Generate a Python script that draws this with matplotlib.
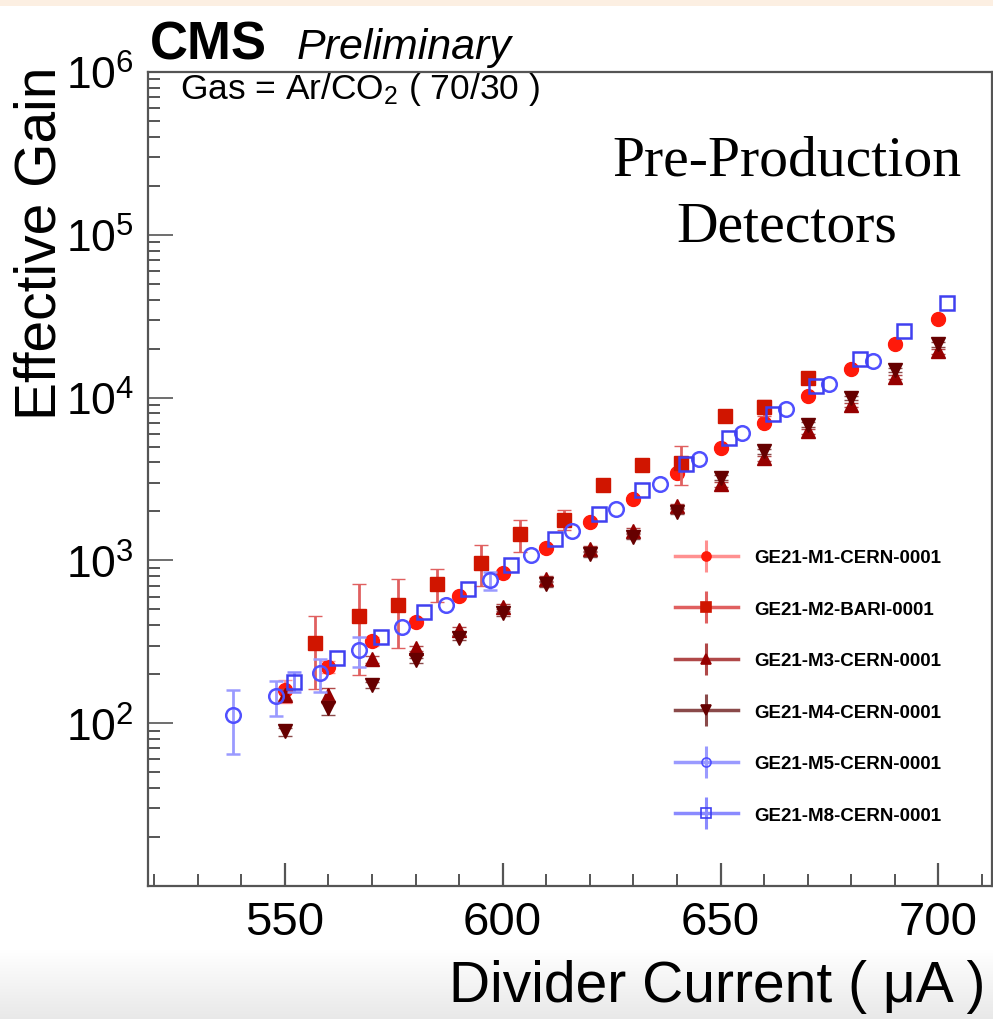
import numpy as np
import matplotlib
matplotlib.use("Agg")
import matplotlib.pyplot as plt
from matplotlib.lines import Line2D
from matplotlib.legend_handler import HandlerTuple
from matplotlib.ticker import FixedLocator, LogLocator, NullFormatter, LogFormatterSciNotation

plt.rcParams['font.family'] = ['Liberation Sans', 'DejaVu Sans']
plt.rcParams['mathtext.fontset'] = 'custom'
plt.rcParams['mathtext.rm'] = 'Liberation Sans'
plt.rcParams['mathtext.it'] = 'Liberation Sans:italic'
plt.rcParams['mathtext.bf'] = 'Liberation Sans:bold'

nan = float('nan')

# ---------------- data ----------------
labels = ["GE21-M1-CERN-0001", "GE21-M2-BARI-0001", "GE21-M3-CERN-0001",
          "GE21-M4-CERN-0001", "GE21-M5-CERN-0001", "GE21-M8-CERN-0001"]

m1_x = [550, 560, 570, 580, 590, 600, 610, 620, 630, 640, 650, 660, 670, 680, 690, 700]
m1_y = [159, 222, 318, 421, 608, 841, 1200, 1730, 2390, 3440, 4900, 6970, 10200, 14900, 21200, 30200]
m1_e = [25, 18, 20, 20, 25, 30, 40, 55, 70, 100, 140, 200, 300, 420, 600, 850]

m2_x = [557, 567, 576, 585, 595, 604, 614, 623, 632, 641, 651, 660, 670]
m2_y = [309, 457, 530, 720, 968, 1457, 1783, 2908, 3856, 3967, 7727, 8733, 13277]
m2_e = [146, 260, 240, 167, 272, 325, 250, 150, 200, 1080, 400, 1000, 600]

m3_x = [550, 560, 570, 580, 590, 600, 610, 620, 630, 640, 650, 660, 670, 680, 690, 700]
m3_y = [150, 149, 247, 288, 376, 520, 770, 1180, 1520, 2160, 2930, 4250, 6200, 9000, 13400, 19300]
m3_e = [12, 15, 12, 12, 15, 20, 28, 40, 55, 75, 100, 150, 210, 300, 450, 650]

m4_x = [550, 560, 570, 580, 590, 600, 610, 620, 630, 640, 650, 660, 670, 680, 690, 700]
m4_y = [89, 124, 172, 243, 336, 472, 715, 1090, 1400, 1990, 3230, 4680, 6820, 9930, 14800, 21300]
m4_e = [5, 12, 8, 10, 13, 18, 25, 36, 48, 65, 110, 160, 230, 330, 500, 720]

m5_x = [538, 548, 558, 567, 577, 587, 597, 606.5, 616, 626, 636, 645, 655, 665, 675, 685]
m5_y = [112, 146, 202, 281, 391, 530, 754, 1072, 1506, 2073, 2950, 4195, 6056, 8490, 12080, 16790]
m5_e = [47, 36, 47, 59, nan, nan, 95, nan, nan, nan, nan, nan, nan, nan, nan, nan]

m8_x = [552, 562, 572, 582, 592, 602, 612, 622, 632, 642, 652, 662, 672, 682, 692, 702]
m8_y = [180, 250, 340, 483, 671, 942, 1358, 1932, 2722, 3910, 5610, 7980, 11700, 17340, 25600, 37850]
m8_e = [25, nan, nan, nan, nan, nan, nan, nan, nan, nan, nan, nan, nan, nan, nan, nan]

xs = [m1_x, m2_x, m3_x, m4_x, m5_x, m8_x]
ys = [m1_y, m2_y, m3_y, m4_y, m5_y, m8_y]
es = [m1_e, m2_e, m3_e, m4_e, m5_e, m8_e]

# ---------------- styles ----------------
markers = ['o', 's', '^', 'v', 'o', 's']
mcolors = ['#ff1a0a', '#d01500', '#960000', '#660000', '#5050ff', '#4040f0']
ecolors = ['#ff9090', '#e06060', '#b04848', '#8a4a4a', '#9a9aff', '#8a8aff']
filled = [True, True, True, True, False, False]
msizes = [10, 10, 10, 10, 10.5, 10.5]

W, H = 993, 1020
fig = plt.figure(figsize=(W / 100, H / 100), dpi=100)

# background decoration (slide screenshot look)
bg = fig.add_axes([0, 0, 1, 1], zorder=-10)
grad = np.ones((H, 1, 3))
grad[:7, 0, :] = np.array([252, 239, 226]) / 255.0
ramp = np.clip((np.arange(H) - 950) / (H - 950), 0, 1)
for i in range(H):
    if ramp[i] > 0:
        grad[i, 0, :] = 1 - 0.09 * ramp[i]
bg.imshow(grad, aspect='auto', extent=[0, 1, 0, 1])
bg.axis('off')

L, R, T, B = 148, 992, 73, 887
ax = fig.add_axes([L / W, 1 - B / H, (R - L) / W, (B - T) / H])

for i in range(6):
    mfc = mcolors[i] if filled[i] else 'none'
    ax.errorbar(xs[i], ys[i], yerr=es[i], fmt=markers[i], ms=msizes[i],
                mfc=mfc, mec=mcolors[i], mew=1.8 if not filled[i] else 1.0,
                ecolor=ecolors[i], elinewidth=2.0, capsize=5, capthick=1.5,
                zorder=3 + i)

ax.set_yscale('log')
ax.set_xlim(518.6, 712.3)
ax.set_ylim(10, 1e6)

ax.yaxis.set_major_locator(FixedLocator([1e2, 1e3, 1e4, 1e5, 1e6]))
ax.yaxis.set_major_formatter(LogFormatterSciNotation())
ax.yaxis.set_minor_locator(LogLocator(base=10, subs=np.arange(2, 10)))
ax.yaxis.set_minor_formatter(NullFormatter())
ax.xaxis.set_major_locator(FixedLocator([550, 600, 650, 700]))
ax.xaxis.set_minor_locator(FixedLocator(np.arange(520, 711, 10)))

ax.tick_params(axis='both', which='both', direction='in', colors='#555555',
               labelcolor='black', top=False, right=False)
ax.tick_params(axis='y', which='major', length=18, width=1.2, labelsize=32, pad=10)
ax.tick_params(axis='y', which='minor', length=8.5, width=1.4)
ax.tick_params(axis='x', which='major', length=16.5, width=1.6, labelsize=34, pad=10)
ax.tick_params(axis='x', which='minor', length=8.5, width=1.4)
for s in ax.spines.values():
    s.set_color('#555555')
    s.set_linewidth(1.6)

# axis titles
fig.text(985 / W, 1 - 1002 / H, "Divider Current ( μA )", fontsize=41,
         ha='right', va='baseline')
fig.text(41 / W, 1 - 243 / H, "Effective Gain", fontsize=41, rotation=90,
         ha='center', va='center')

# header
fig.text(150 / W, 1 - 59 / H, "CMS", fontsize=38, fontweight='bold',
         ha='left', va='baseline')
fig.text(297 / W, 1 - 59 / H, "Preliminary", fontsize=31, fontstyle='italic',
         ha='left', va='baseline')

fig.text(180 / W, 1 - 99 / H, "Gas = Ar/CO$_{2}$ ( 70/30 )", fontsize=25.5,
         ha='left', va='baseline')

fig.text(787 / W, 1 - 175 / H, "Pre-Production", fontsize=41.5,
         family=['Liberation Serif', 'DejaVu Serif'], ha='center', va='baseline')
fig.text(787 / W, 1 - 241 / H, "Detectors", fontsize=41.5,
         family=['Liberation Serif', 'DejaVu Serif'], ha='center', va='baseline')

# legend
handles = []
for i in range(6):
    line = Line2D([], [], color=ecolors[i], lw=2.5)
    vbar = Line2D([], [], color=ecolors[i], marker='|', ms=23, mew=2.2, ls='none')
    mfc = mcolors[i] if filled[i] else 'none'
    mk = Line2D([], [], color=mcolors[i], marker=markers[i], ms=6.5, mfc=mfc,
                mec=mcolors[i], mew=1.2, ls='none')
    handles.append((line, vbar, mk))

leg = ax.legend(handles, labels, handler_map={tuple: HandlerTuple(ndivide=1)},
                loc='center left', bbox_to_anchor=((675 - L) / (R - L), (B - 687.5) / (B - T)),
                borderpad=0, borderaxespad=0, handlelength=3.35, handletextpad=0.88,
                labelspacing=1.83, frameon=False,
                prop={'family': ['Liberation Sans', 'DejaVu Sans'], 'weight': 'bold', 'size': 13.5})

fig.savefig("out.png", dpi=100)
